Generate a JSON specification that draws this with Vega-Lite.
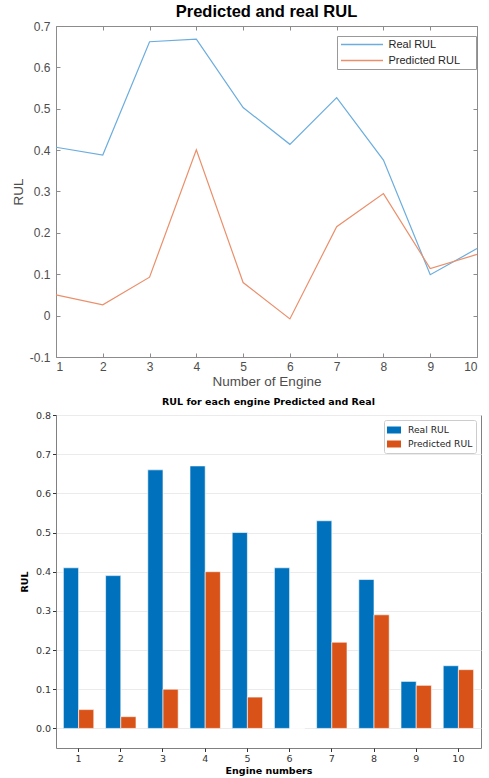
{
  "$schema": "https://vega.github.io/schema/vega-lite/v6.json",
  "padding": {"left": 10, "top": 3, "right": 3, "bottom": 2},
  "background": "white",
  "spacing": 8,
  "columns": 1,
  "align": "none",
  "resolve": {"scale": {"color": "independent"}, "legend": {"color": "independent"}},
  "datasets": {
    "lines": [
      {"engine": 1, "series": "Real RUL", "rul": 0.407},
      {"engine": 2, "series": "Real RUL", "rul": 0.388},
      {"engine": 3, "series": "Real RUL", "rul": 0.662},
      {"engine": 4, "series": "Real RUL", "rul": 0.668},
      {"engine": 5, "series": "Real RUL", "rul": 0.503},
      {"engine": 6, "series": "Real RUL", "rul": 0.414},
      {"engine": 7, "series": "Real RUL", "rul": 0.527},
      {"engine": 8, "series": "Real RUL", "rul": 0.376},
      {"engine": 9, "series": "Real RUL", "rul": 0.099},
      {"engine": 10, "series": "Real RUL", "rul": 0.162},
      {"engine": 1, "series": "Predicted RUL", "rul": 0.05},
      {"engine": 2, "series": "Predicted RUL", "rul": 0.026},
      {"engine": 3, "series": "Predicted RUL", "rul": 0.093},
      {"engine": 4, "series": "Predicted RUL", "rul": 0.401},
      {"engine": 5, "series": "Predicted RUL", "rul": 0.08},
      {"engine": 6, "series": "Predicted RUL", "rul": -0.008},
      {"engine": 7, "series": "Predicted RUL", "rul": 0.215},
      {"engine": 8, "series": "Predicted RUL", "rul": 0.295},
      {"engine": 9, "series": "Predicted RUL", "rul": 0.114},
      {"engine": 10, "series": "Predicted RUL", "rul": 0.148}
    ],
    "bars": [
      {"engine": 1, "series": "Real RUL", "rul": 0.41},
      {"engine": 2, "series": "Real RUL", "rul": 0.39},
      {"engine": 3, "series": "Real RUL", "rul": 0.66},
      {"engine": 4, "series": "Real RUL", "rul": 0.67},
      {"engine": 5, "series": "Real RUL", "rul": 0.5},
      {"engine": 6, "series": "Real RUL", "rul": 0.41},
      {"engine": 7, "series": "Real RUL", "rul": 0.53},
      {"engine": 8, "series": "Real RUL", "rul": 0.38},
      {"engine": 9, "series": "Real RUL", "rul": 0.12},
      {"engine": 10, "series": "Real RUL", "rul": 0.16},
      {"engine": 1, "series": "Predicted RUL", "rul": 0.048},
      {"engine": 2, "series": "Predicted RUL", "rul": 0.03},
      {"engine": 3, "series": "Predicted RUL", "rul": 0.1},
      {"engine": 4, "series": "Predicted RUL", "rul": 0.4},
      {"engine": 5, "series": "Predicted RUL", "rul": 0.08},
      {"engine": 6, "series": "Predicted RUL", "rul": 0.0},
      {"engine": 7, "series": "Predicted RUL", "rul": 0.22},
      {"engine": 8, "series": "Predicted RUL", "rul": 0.29},
      {"engine": 9, "series": "Predicted RUL", "rul": 0.11},
      {"engine": 10, "series": "Predicted RUL", "rul": 0.15}
    ]
  },
  "concat": [
    {
      "width": 421,
      "height": 331,
      "title": {"text": "Predicted and real RUL", "font": "Liberation Sans", "fontSize": 16.5, "fontWeight": "bold", "color": "#000000", "frame": "group", "anchor": "middle", "offset": 0},
      "view": {"stroke": "#8c8c8c", "strokeWidth": 1},
      "data": {"name": "lines"},
      "layer": [
        {
          "mark": {"type": "line", "strokeWidth": 1.2},
          "encoding": {
            "x": {
              "field": "engine", "type": "quantitative",
              "scale": {"domain": [1, 10], "nice": false, "zero": false},
              "axis": {"values": [1, 2, 3, 4, 5, 6, 7, 8, 9, 10], "grid": false, "domain": false, "tickSize": -4, "tickColor": "#8c8c8c", "labelPadding": 8, "labelFont": "Liberation Sans", "labelFontSize": 12, "labelColor": "#4d4d4d", "title": "Number of Engine", "titleFont": "Liberation Sans", "titleFontSize": 13.5, "titleFontWeight": "normal", "titleColor": "#4d4d4d", "titlePadding": 2}
            },
            "y": {
              "field": "rul", "type": "quantitative",
              "scale": {"domain": [-0.1, 0.7], "nice": false, "zero": false},
              "axis": {"values": [-0.1, 0, 0.1, 0.2, 0.3, 0.4, 0.5, 0.6, 0.7], "labelExpr": "datum.value == 0 ? '0' : (datum.value < 0 ? '-' + format(-datum.value, '.1f') : format(datum.value, '.1f'))", "grid": false, "domain": false, "tickSize": -4, "tickColor": "#8c8c8c", "labelPadding": 10, "labelFont": "Liberation Sans", "labelFontSize": 12, "labelColor": "#4d4d4d", "title": "RUL", "titleFont": "Liberation Sans", "titleFontSize": 13.5, "titleFontWeight": "normal", "titleColor": "#4d4d4d", "titlePadding": 4}
            },
            "color": {
              "field": "series", "type": "nominal",
              "scale": {"domain": ["Real RUL", "Predicted RUL"], "range": ["#6badde", "#eb8f6b"]},
              "legend": {"orient": "none", "legendX": 281, "legendY": 10, "title": null, "symbolType": "M-4.67,0H4.67", "symbolSize": 81, "symbolStrokeWidth": 1.5, "symbolOffset": 16.5, "labelOffset": 21, "labelExpr": "datum.label + '\u00a0\u00a0\u00a0\u00a0\u200b'", "labelFont": "Liberation Sans", "labelFontSize": 11, "labelColor": "#262626", "strokeColor": "#999999", "fillColor": "white", "padding": 3, "rowPadding": 4}
            }
          }
        },
        {
          "mark": {"type": "point", "opacity": 0},
          "encoding": {
            "x": {"field": "engine", "type": "quantitative", "axis": {"orient": "top", "values": [1, 2, 3, 4, 5, 6, 7, 8, 9, 10], "labels": false, "title": null, "grid": false, "domain": false, "tickSize": -4, "tickColor": "#8c8c8c", "minExtent": 0, "maxExtent": 0}},
            "y": {"field": "rul", "type": "quantitative", "axis": {"orient": "right", "values": [-0.1, 0, 0.1, 0.2, 0.3, 0.4, 0.5, 0.6, 0.7], "labels": false, "title": null, "grid": false, "domain": false, "tickSize": -4, "tickColor": "#8c8c8c", "minExtent": 0, "maxExtent": 0}}
          }
        }
      ],
      "resolve": {"axis": {"x": "independent", "y": "independent"}}
    },
    {
      "width": 425,
      "height": 333,
      "title": {"text": "RUL for each engine Predicted and Real", "font": "DejaVu Sans", "fontSize": 9.5, "fontWeight": "bold", "color": "#000000", "frame": "group", "anchor": "middle", "offset": 4},
      "view": {"stroke": "#808080", "strokeWidth": 1},
      "layer": [
        {
          "data": {"name": "bars"},
          "mark": {"type": "bar", "stroke": "white", "strokeWidth": 0.6},
          "encoding": {
            "x": {
              "field": "engine", "type": "ordinal",
              "scale": {"paddingInner": 0.28, "paddingOuter": 0.175},
              "axis": {"labelAngle": 0, "grid": false, "domain": false, "tickSize": 3.5, "tickColor": "#333333", "labelPadding": 2, "labelFont": "DejaVu Sans", "labelFontSize": 9.5, "labelColor": "#333333", "title": "Engine numbers", "titleFont": "DejaVu Sans", "titleFontSize": 9.5, "titleFontWeight": "bold", "titleColor": "#000000", "titlePadding": 2}
            },
            "xOffset": {"field": "series", "type": "nominal", "scale": {"domain": ["Real RUL", "Predicted RUL"]}},
            "y": {
              "field": "rul", "type": "quantitative",
              "scale": {"domain": [-0.05, 0.8], "nice": false, "zero": false},
              "axis": {"values": [0, 0.1, 0.2, 0.3, 0.4, 0.5, 0.6, 0.7, 0.8], "format": ".1f", "grid": true, "gridColor": "#ebebeb", "gridWidth": 1, "domain": false, "tickSize": 3.5, "tickColor": "#333333", "labelPadding": 2, "labelFont": "DejaVu Sans", "labelFontSize": 9.5, "labelColor": "#333333", "title": "RUL", "titleFont": "DejaVu Sans", "titleFontSize": 9.5, "titleFontWeight": "bold", "titleColor": "#000000", "titlePadding": 6}
            },
            "color": {
              "field": "series", "type": "nominal",
              "scale": {"domain": ["Real RUL", "Predicted RUL"], "range": ["#0072BD", "#D95319"]},
              "legend": {"orient": "top-right", "offset": 5, "title": null, "symbolType": "M-1,-0.5H1V0.5H-1Z", "symbolSize": 196, "symbolStrokeWidth": 0, "labelOffset": 7, "labelFont": "DejaVu Sans", "labelFontSize": 9.2, "labelColor": "#262626", "strokeColor": "#cccccc", "fillColor": "white", "padding": 3, "rowPadding": 1, "cornerRadius": 2}
            }
          }
        },
        {
          "mark": {"type": "rule", "color": "#333333", "strokeWidth": 1},
          "encoding": {"y": {"datum": 0}}
        }
      ]
    }
  ]
}
